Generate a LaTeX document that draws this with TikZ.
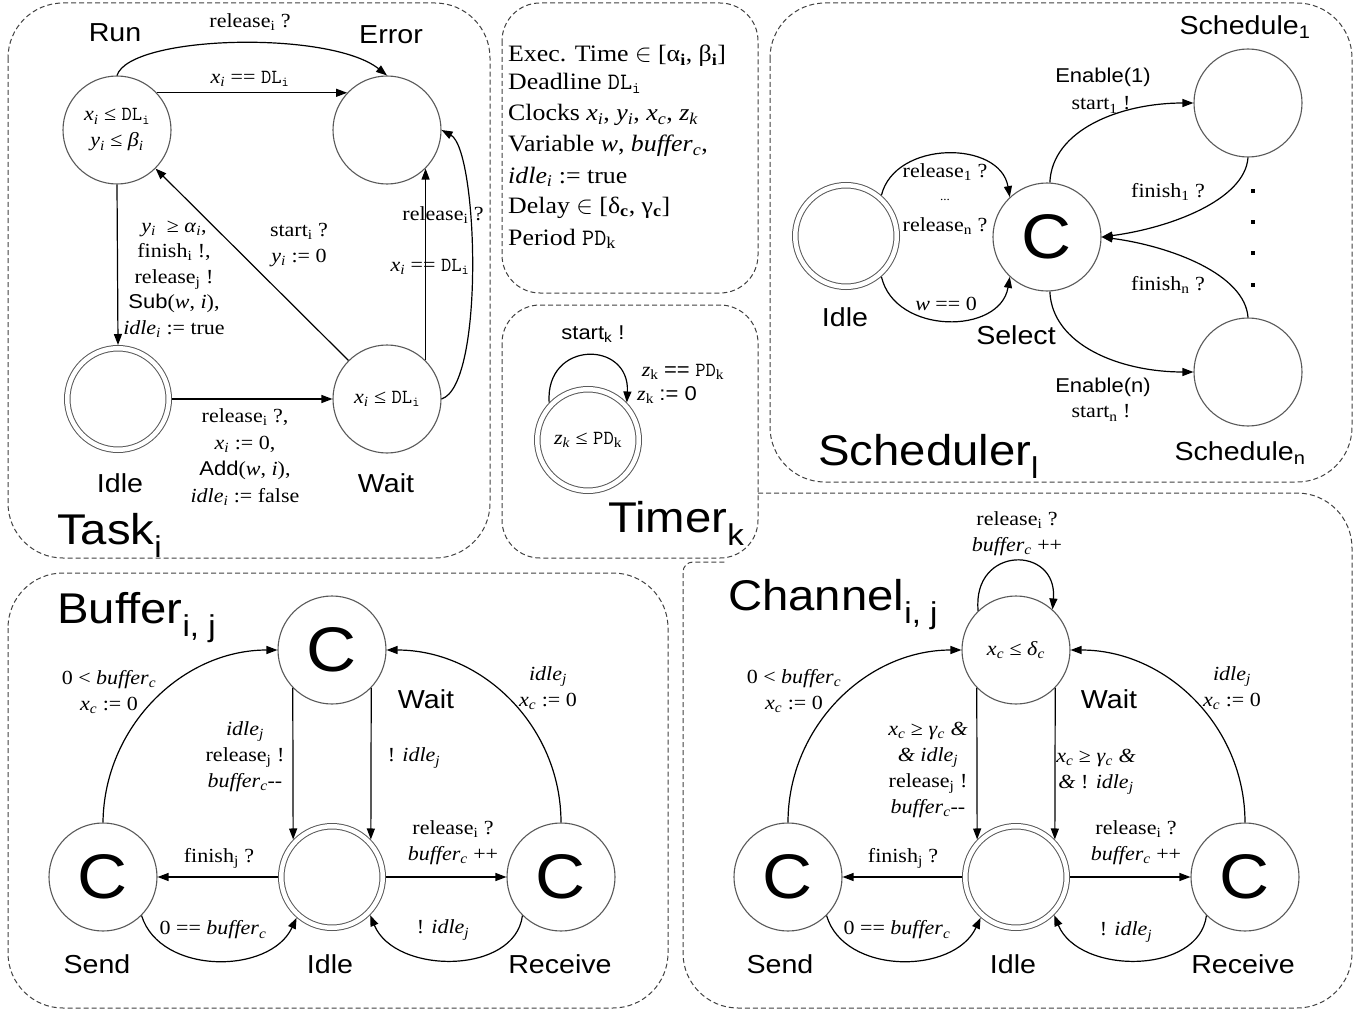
\documentclass[tikz,border=0pt]{standalone}
\usepackage{fontspec}
\setmainfont{Liberation Serif}[FakeStretch=1.1]
\setsansfont{Liberation Sans}[FakeStretch=1.1]
\usetikzlibrary{arrows.meta}
\newcommand\iv[2]{\textit{#1}\textsubscript{\textit{#2}}}
\newcommand\rs[2]{#1\textsubscript{#2}}
\newcommand\mt[2]{\texttt{#1}\textsubscript{\texttt{#2}}}
\begin{document}
\begin{tikzpicture}[x=1pt,y=-1pt,
 st/.style={circle,draw=black!65,line width=1.1pt,minimum size=108pt,inner sep=0pt,font=\fontsize{20}{26}\selectfont,align=center},
 dst/.style={circle,draw=black!65,line width=1pt,double,double distance=4.5pt,minimum size=101.5pt,inner sep=0pt,outer sep=3.25pt,font=\fontsize{20}{26}\selectfont,align=center},
 cst/.style={st,font=\sffamily\fontsize{63}{63}\selectfont},
 ed/.style={-{Triangle[length=11pt,width=8pt]},line width=1.2pt},
 lb/.style={font=\fontsize{20}{26}\selectfont,align=center,inner sep=0pt},
 nm/.style={font=\sffamily\fontsize{26}{30}\selectfont,inner sep=0pt},
 ttl/.style={font=\sffamily\fontsize{43}{46}\selectfont,inner sep=0pt,anchor=base west},
 sl/.style={font=\sffamily\fontsize{20}{26}\selectfont,inner sep=0pt},
 panel/.style={draw=black!75,line width=1pt,dash pattern=on 5pt off 3pt},
 txt/.style={font=\fontsize{23.5}{30}\selectfont,inner sep=0pt,anchor=base west}
]
\useasboundingbox (0,0) rectangle (1369,1014);
% panels
\draw[panel,rounded corners=55pt] (8,3) rectangle (490,558);
\draw[panel,rounded corners=38pt] (502,3) rectangle (758,293);
\draw[panel,rounded corners=38pt] (502,305) rectangle (758,558);
\draw[panel,rounded corners=55pt] (770,3) rectangle (1352,482);
\draw[panel,rounded corners=55pt] (8,573) rectangle (668,1008);
\draw[panel,rounded corners=55pt] (758,493) -- (1352,493) -- (1352,1008) -- (683,1008) -- (683,610);
\draw[panel,rounded corners=10pt] (683,610) -- (683,562) -- (725,562);

% ---------------- Task
\node[st] (run) at (117,130) {\iv{x}{i} ≤ \mt{DL}{i}\\\iv{y}{i} ≤ \iv{β}{i}};
\node[st] (err) at (387,130) {};
\node[dst] (tidle) at (118,399) {};
\node[st] (twait) at (387,399) {\iv{x}{i} ≤ \mt{DL}{i}};
\node[nm] (lrun) at (115,33) {Run};
\node[nm] (lerr) at (391,35) {Error};
\node[nm] (ltidle) at (120,483) {Idle};
\node[nm] (ltwait) at (386,483) {Wait};
\node[ttl] (ltask) at (57,544) {Task\textsubscript{i}};
\draw[ed] (run.north) .. controls (130,35) and (330,30) .. (err.north);
\node[lb] (tl1) at (250,22) {\rs{release}{i} ?};
\draw[ed] (run.43) -- (err.137);
\node[lb] (tl2) at (250,79) {\iv{x}{i} == \mt{DL}{i}};
\draw[ed] (run.south) -- (tidle.north);
\node[lb,font=\fontsize{20}{25.5}\selectfont] (tl3) at (174,279) {\iv{y}{i} \ ≥ \iv{α}{i},\\\rs{finish}{i} !,\\\rs{release}{j} !\\{\sffamily Sub}(\textit{w}, \textit{i}),\\\iv{idle}{i} := true};
\draw[ed] (tidle.east) -- (twait.west);
\node[lb,font=\fontsize{20}{26.7}\selectfont] (tl4) at (245,457) {\rs{release}{i} ?,\\\iv{x}{i} := 0,\\{\sffamily Add}(\textit{w}, \textit{i}),\\\iv{idle}{i} := false};
\draw[ed] (twait.135) -- (run.-45);
\node[lb] (tl5) at (299,245) {\rs{start}{i} ?\\\iv{y}{i} := 0};
\draw[ed] (twait.45) -- (err.-45);
\node[lb] (tl6) at (430,267) {\iv{x}{i} == \mt{DL}{i}};
\draw[ed] (twait.east) .. controls (485,385) and (478,150) .. (err.east);
\node[lb] (tl7) at (443,215) {\rs{release}{i} ?};

% ---------------- declarations
\node[txt] (d1) at (508,62) {Exec. Time $\in$ [α\textsubscript{\textbf{i}}, β\textsubscript{\textbf{i}}]};
\node[txt] (d2) at (508,90) {Deadline \mt{DL}{i}};
\node[txt] (d3) at (508,121) {Clocks \iv{x}{i}, \iv{y}{i}, \iv{x}{c}, \iv{z}{k}};
\node[txt] (d4) at (508,152) {Variable \textit{w}, \iv{buffer}{c},};
\node[txt] (d5) at (508,183) {\iv{idle}{i} := true};
\node[txt] (d6) at (508,213) {Delay $\in$ [δ\textsubscript{\textbf{c}}, γ\textsubscript{\textbf{c}}]};
\node[txt] (d7) at (508,245) {Period \texttt{PD}\textsubscript{k}};

% ---------------- Timer
\node[dst] (tm) at (588,440) {\iv{z}{k} ≤ \texttt{PD}\textsubscript{k}};
\draw[ed] (tm.136) .. controls (545,340) and (630,340) .. (tm.44);
\node[sl] (tms) at (593,334) {\rs{start}{k} !};
\node[lb] (tmz1) at (683,372) {\textit{z}\textsubscript{k} {\sffamily ==} \texttt{PD}\textsubscript{k}};
\node[lb] (tmz2) at (667,395) {\textit{z}\textsubscript{k} {\sffamily := 0}};
\node[ttl] (ltimer) at (608,532) {Timer\textsubscript{k}};

% ---------------- Scheduler
\node[dst] (sidle) at (846,236) {};
\node[cst] (sel) at (1047,237) {C};
\node[st] (s1) at (1248,103) {};
\node[st] (sn) at (1248,372) {};
\node[nm] (lsidle) at (845,317) {Idle};
\node[nm] (lsel) at (1016,335) {Select};
\node[nm] (ls1) at (1245,27) {Schedule\textsubscript{1}};
\node[nm] (lsn) at (1240,453) {Schedule\textsubscript{n}};
\node[ttl] (lsch) at (818,465) {Scheduler\textsubscript{l}};
\draw[ed] (sidle.49) .. controls (895,140) and (1000,140) .. (sel.133);
\node[lb] (sr1) at (945,172) {\rs{release}{1} ?};
\node[lb,font=\fontsize{12}{12}\selectfont] (srd) at (945,200) {...};
\node[lb] (srn) at (945,226) {\rs{release}{n} ?};
\draw[ed] (sidle.-49) .. controls (895,335) and (1000,335) .. (sel.-133);
\node[lb] (srw) at (946,304) {\textit{w} == 0};
\draw[ed] (sel.87) .. controls (1052,130) and (1120,103) .. (s1.west);
\node[sl] (se1) at (1103,77) {Enable(1)};
\node[lb] (sst1) at (1101,105) {\rs{start}{1} !};
\draw[ed] (s1.south) .. controls (1245,200) and (1170,228) .. (sel.east);
\node[lb] (sf1) at (1168,192) {\rs{finish}{1} ?};
\draw[ed] (sn.north) .. controls (1245,274) and (1170,246) .. (sel.east);
\node[lb] (sfn) at (1168,285) {\rs{finish}{n} ?};
\draw[ed] (sel.-87) .. controls (1052,345) and (1120,372) .. (sn.west);
\node[sl] (sen) at (1103,387) {Enable(n)};
\node[lb] (sstn) at (1101,413) {\rs{start}{n} !};
\foreach \yy in {189,220,251,283} {\fill (1251,\yy) rectangle +(4,4);}

% ---------------- Buffer
\node[cst] (bwait) at (332,650) {C};
\node[cst] (bsend) at (103,877) {C};
\node[dst] (bidle) at (332,877) {};
\node[cst] (brecv) at (561,877) {C};
\node[nm] (lbwait) at (426,699) {Wait};
\node[nm] (lbsend) at (97,964) {Send};
\node[nm] (lbidle) at (330,964) {Idle};
\node[nm] (lbrecv) at (560,964) {Receive};
\node[ttl] (lbuf) at (57,623) {Buffer\textsubscript{i, j}};
\draw[ed] (bsend.north) .. controls (104,727) and (182,650) .. (bwait.west);
\node[lb,font=\fontsize{20}{26}\selectfont] (bl1) at (109,692) {0 < \iv{buffer}{c}\\\iv{x}{c} := 0};
\draw[ed] (brecv.north) .. controls (561,727) and (483,650) .. (bwait.east);
\node[lb] (bl2) at (548,688) {\iv{idle}{j}\\\iv{x}{c} := 0};
\draw[ed] (bwait.-136) -- (bidle.136);
\node[lb] (bl3) at (245,757) {\iv{idle}{j}\\\rs{release}{j} !\\\iv{buffer}{c}-{}-};
\draw[ed] (bwait.-44) -- (bidle.44);
\node[lb] (bl4) at (414,758) {! \iv{idle}{j}};
\draw[ed] (bidle.west) -- (bsend.east);
\node[lb] (bl5) at (219,858) {\rs{finish}{j} ?};
\draw[ed] (bsend.-45) .. controls (160,975) and (270,975) .. (bidle.-131);
\node[lb] (bl6) at (213,930) {0 == \iv{buffer}{c}};
\draw[ed] (bidle.east) -- (brecv.west);
\node[lb] (bl7) at (453,843) {\rs{release}{i} ?\\\iv{buffer}{c} ++};
\draw[ed] (brecv.-135) .. controls (515,975) and (395,975) .. (bidle.-45);
\node[lb] (bl8) at (443,930) {! \iv{idle}{j}};

% ---------------- Channel
\node[st] (cwait) at (1016,650) {\iv{x}{c} ≤ \iv{δ}{c}};
\node[cst] (csend) at (788,877) {C};
\node[dst] (cidle) at (1016,877) {};
\node[cst] (crecv) at (1245,877) {C};
\node[nm] (lcwait) at (1109,699) {Wait};
\node[nm] (lcsend) at (780,964) {Send};
\node[nm] (lcidle) at (1013,964) {Idle};
\node[nm] (lcrecv) at (1243,964) {Receive};
\node[ttl] (lch) at (728,610) {Channel\textsubscript{i, j}};
\draw[ed] (cwait.134) .. controls (972,545) and (1058,545) .. (cwait.48);
\node[lb] (cl0) at (1017,534) {\rs{release}{i} ?\\\iv{buffer}{c} ++};
\draw[ed] (csend.north) .. controls (788,727) and (866,650) .. (cwait.west);
\node[lb,font=\fontsize{20}{26}\selectfont] (cl1) at (794,691) {0 < \iv{buffer}{c}\\\iv{x}{c} := 0};
\draw[ed] (crecv.north) .. controls (1245,727) and (1167,650) .. (cwait.east);
\node[lb] (cl2) at (1232,688) {\iv{idle}{j}\\\iv{x}{c} := 0};
\draw[ed] (cwait.-136) -- (cidle.136);
\node[lb] (cl3) at (928,770) {\iv{x}{c} ≥ \iv{γ}{c} \textit{\&}\\\textit{\&} \iv{idle}{j}\\\rs{release}{j} !\\\iv{buffer}{c}-{}-};
\draw[ed] (cwait.-44) -- (cidle.44);
\node[lb] (cl4) at (1096,772) {\iv{x}{c} ≥ \iv{γ}{c} \textit{\&}\\\textit{\&} ! \iv{idle}{j}};
\draw[ed] (cidle.west) -- (csend.east);
\node[lb] (cl5) at (903,858) {\rs{finish}{j} ?};
\draw[ed] (csend.-45) .. controls (844,975) and (954,975) .. (cidle.-131);
\node[lb] (cl6) at (897,930) {0 == \iv{buffer}{c}};
\draw[ed] (cidle.east) -- (crecv.west);
\node[lb] (cl7) at (1136,843) {\rs{release}{i} ?\\\iv{buffer}{c} ++};
\draw[ed] (crecv.-135) .. controls (1199,975) and (1079,975) .. (cidle.-45);
\node[lb] (cl8) at (1126,932) {! \iv{idle}{j}};
\end{tikzpicture}
\end{document}
